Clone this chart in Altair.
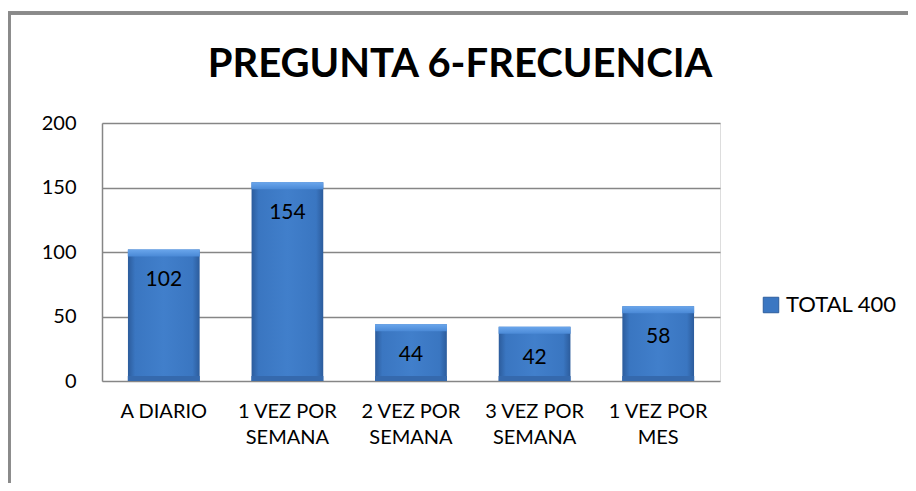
import altair as alt
import pandas as pd

categories = ["A DIARIO", "1 VEZ POR SEMANA", "2 VEZ POR SEMANA", "3 VEZ POR SEMANA", "1 VEZ POR MES"]
values = [102, 154, 44, 42, 58]
series_name = "TOTAL 400"
y_ticks = [0, 50, 100, 150, 200]
title_text = "PREGUNTA 6-FRECUENCIA"

df = pd.DataFrame({"cat": categories, "val": values, "serie": [series_name] * len(categories)})
df["zero"] = 0

FONT = "Lato"

grad = alt.Gradient(
    gradient="linear", x1=0, x2=1, y1=0, y2=0,
    stops=[
        alt.GradientStop(color="#2c5c9c", offset=0),
        alt.GradientStop(color="#3a76c1", offset=0.1),
        alt.GradientStop(color="#417fcb", offset=0.5),
        alt.GradientStop(color="#3a76c1", offset=0.9),
        alt.GradientStop(color="#2c5c9c", offset=1),
    ],
)
top_grad = alt.Gradient(
    gradient="linear", x1=0, x2=0, y1=0, y2=1,
    stops=[
        alt.GradientStop(color="#6aa6ec", offset=0),
        alt.GradientStop(color="#4a89d6", offset=1),
    ],
)

sort_x = alt.X("cat:N", sort=categories)

x_enc = alt.X(
    "cat:N", sort=categories, title=None,
    scale=alt.Scale(paddingInner=0.42, paddingOuter=0.21),
    axis=alt.Axis(
        labelAngle=0, labelFontSize=20, labelFont=FONT, labelColor="#000000",
        labelPadding=20, labelLineHeight=26, ticks=False, domain=False,
        labelExpr="datum.label == 'A DIARIO' ? datum.label : split(replace(datum.label, 'POR ', 'POR|'), '|')",
    ),
)
y_enc = alt.Y(
    "val:Q", title=None,
    scale=alt.Scale(domain=[0, 200], nice=False),
    axis=alt.Axis(
        values=y_ticks, labelFontSize=20, labelFont=FONT, labelColor="#000000",
        labelPadding=26, ticks=False, domain=True, domainColor="#868686", domainWidth=1.5,
        grid=True, gridColor="#868686", gridWidth=1.5,
    ),
)

bars = alt.Chart(df).mark_bar(color=grad).encode(x=x_enc, y=y_enc)

top_bevel = alt.Chart(df).mark_tick(
    color=top_grad, thickness=7, size=72, yOffset=3.5, opacity=1
).encode(x=sort_x, y=alt.Y("val:Q"))

bottom_bevel = alt.Chart(df).mark_tick(
    color="#3569ad", thickness=5, size=72, yOffset=-2.5, opacity=1
).encode(x=sort_x, y=alt.Y("zero:Q"))

legend_layer = alt.Chart(df).mark_square(size=0, opacity=0).encode(
    x=sort_x,
    y=alt.Y("zero:Q"),
    fill=alt.Fill(
        "serie:N", title=None,
        scale=alt.Scale(range=["#3b77c2"]),
        legend=alt.Legend(
            orient="none", legendX=658, legendY=171, labelFontSize=22, labelFont=FONT,
            labelColor="#000000", symbolType="square", symbolSize=240, symbolOpacity=1,
            symbolStrokeColor="#2d5e9e", symbolStrokeWidth=1, labelLimit=300, labelOffset=4,
        ),
    ),
)

labels = alt.Chart(df).mark_text(
    fontSize=21, font=FONT, color="#000000", baseline="middle", dy=31
).encode(x=sort_x, y=alt.Y("val:Q"), text=alt.Text("val:Q"))

title_mark = alt.Chart(pd.DataFrame({"t": [title_text]})).mark_text(
    font=FONT, fontSize=40, fontWeight="bold", color="#000000",
    align="center", baseline="alphabetic",
).encode(x=alt.value(358), y=alt.value(-46), text="t:N")

border_top = alt.Chart(df).mark_rule(color="#8a8a8a", strokeWidth=3).encode(
    x=alt.value(-94), x2=alt.value(830), y=alt.value(-110)
)
border_left = alt.Chart(df).mark_rule(color="#8a8a8a", strokeWidth=3).encode(
    x=alt.value(-93), y=alt.value(-111), y2=alt.value(420)
)

chart = alt.layer(
    bars, top_bevel, bottom_bevel, legend_layer, labels, title_mark, border_top, border_left
).properties(
    width=618, height=258,
    autosize=alt.AutoSizeParams(type="none"),
    padding={"left": 94, "top": 115, "right": 188, "bottom": 102},
).configure_view(stroke=None).configure(background="#ffffff")

chart.save("out.html", embed_options={"renderer": "svg", "actions": False})
